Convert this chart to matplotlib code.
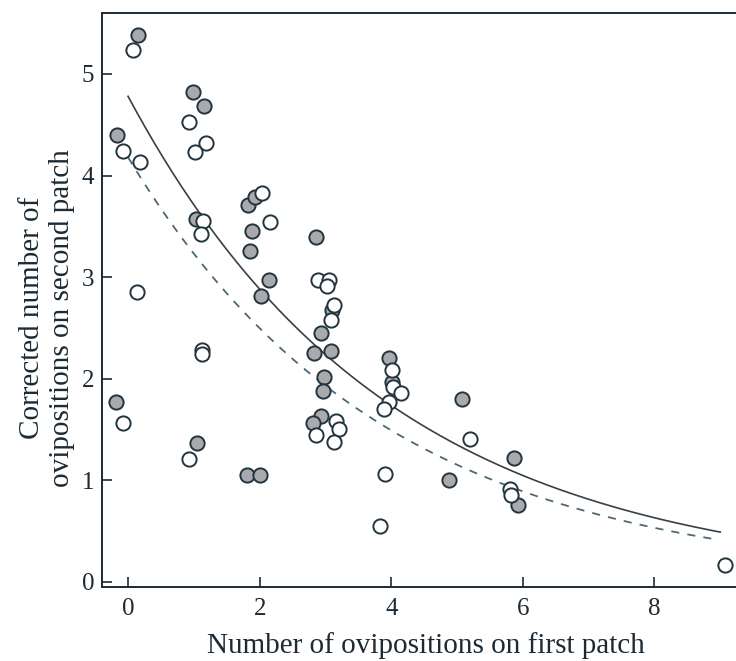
import numpy as np
import matplotlib
matplotlib.use("Agg")
import matplotlib.pyplot as plt

# ---- data ----
filled_x = [0.15, 0.99, 1.16, -0.17, 1.82, 1.93, 1.88, 1.86, 1.03, 2.86, 2.14, 2.02,
            2.93, 2.83, 3.08, 2.98, 2.97, 3.96, 4.01, 5.07, -0.18, 1.05, 1.81, 2.01,
            2.93, 2.81, 4.88, 5.87, 5.92, 3.10]
filled_y = [5.38, 4.82, 4.68, 4.40, 3.71, 3.79, 3.45, 3.26, 3.57, 3.40, 2.97, 2.81,
            2.45, 2.25, 2.27, 2.02, 1.88, 2.20, 1.97, 1.80, 1.77, 1.37, 1.05, 1.05,
            1.63, 1.56, 1.00, 1.22, 0.76, 2.68]

open_x = [0.07, 0.93, 1.19, 1.01, -0.07, 0.18, 2.03, 2.16, 1.14, 1.11, 2.88, 3.06,
          3.03, 3.13, 3.08, 0.13, 1.12, 1.12, 4.01, 4.03, 4.15, 3.96, 3.89, -0.08,
          0.92, 3.16, 3.20, 2.86, 3.13, 5.20, 3.91, 3.83, 5.81, 5.82, 9.07]
open_y = [5.24, 4.53, 4.32, 4.23, 4.24, 4.13, 3.83, 3.54, 3.55, 3.42, 2.97, 2.97,
          2.91, 2.73, 2.58, 2.85, 2.28, 2.24, 2.09, 1.92, 1.86, 1.77, 1.70, 1.56,
          1.21, 1.58, 1.51, 1.45, 1.38, 1.41, 1.06, 0.55, 0.91, 0.86, 0.17]

# fitted exponential curves y = a * exp(-b x)  (parameters)
solid_a, solid_b, solid_xmax = 4.78, 0.253, 9.0
dashed_a, dashed_b, dashed_xmax = 4.18, 0.2576, 8.95

xticks = [0, 2, 4, 6, 8]
yticks = [0, 1, 2, 3, 4, 5]
xlabel = "Number of ovipositions on first patch"
ylabel = "Corrected number of\novipositions on second patch"

# ---- figure ----
W, H = 736, 661
fig = plt.figure(figsize=(W / 100, H / 100), dpi=100)
plt.rcParams['font.family'] = ['Liberation Serif', 'DejaVu Serif']

left_px, right_px, top_px, bottom_px = 102.4, 740, 13, 587
ax = fig.add_axes([left_px / W, (H - bottom_px) / H,
                   (right_px - left_px) / W, (bottom_px - top_px) / H])
ax.set_xlim(-0.39, 9.30)
ax.set_ylim(-0.05, 5.60)

txt = "#1c2a33"
for s in ax.spines.values():
    s.set_color("#1c2a33")
    s.set_linewidth(1.4)
ax.spines['right'].set_visible(False)

xs = np.linspace(0, solid_xmax, 200)
ax.plot(xs, solid_a * np.exp(-solid_b * xs), color="#3a3f44", lw=1.2, zorder=2)
xd = np.linspace(0, dashed_xmax, 200)
ax.plot(xd, dashed_a * np.exp(-dashed_b * xd), color="#4d6876", lw=1.3,
        dashes=(4.5, 4.5), zorder=2)

ax.scatter(filled_x, filled_y, s=105, facecolor="#a8aaad", edgecolor="#22343d",
           linewidths=1.4, zorder=3, clip_on=False)
ax.scatter(open_x, open_y, s=105, facecolor="white", edgecolor="#22343d",
           linewidths=1.4, zorder=4, clip_on=False)

ax.set_xticks(xticks)
ax.set_yticks(yticks)
ax.tick_params(direction='in', length=7, width=1.2, colors=txt, labelsize=18,
               pad=6)
ax.tick_params(axis='x', pad=8)

fig.text(426 / W, (H - 653) / H, xlabel, ha='center', va='baseline',
         fontsize=21, color=txt)
fig.text(47 / W, (H - 318) / H, ylabel, ha='center', va='center', rotation=90,
         fontsize=21, color=txt, multialignment='center', linespacing=1.2)

fig.savefig("out.png", dpi=100)
